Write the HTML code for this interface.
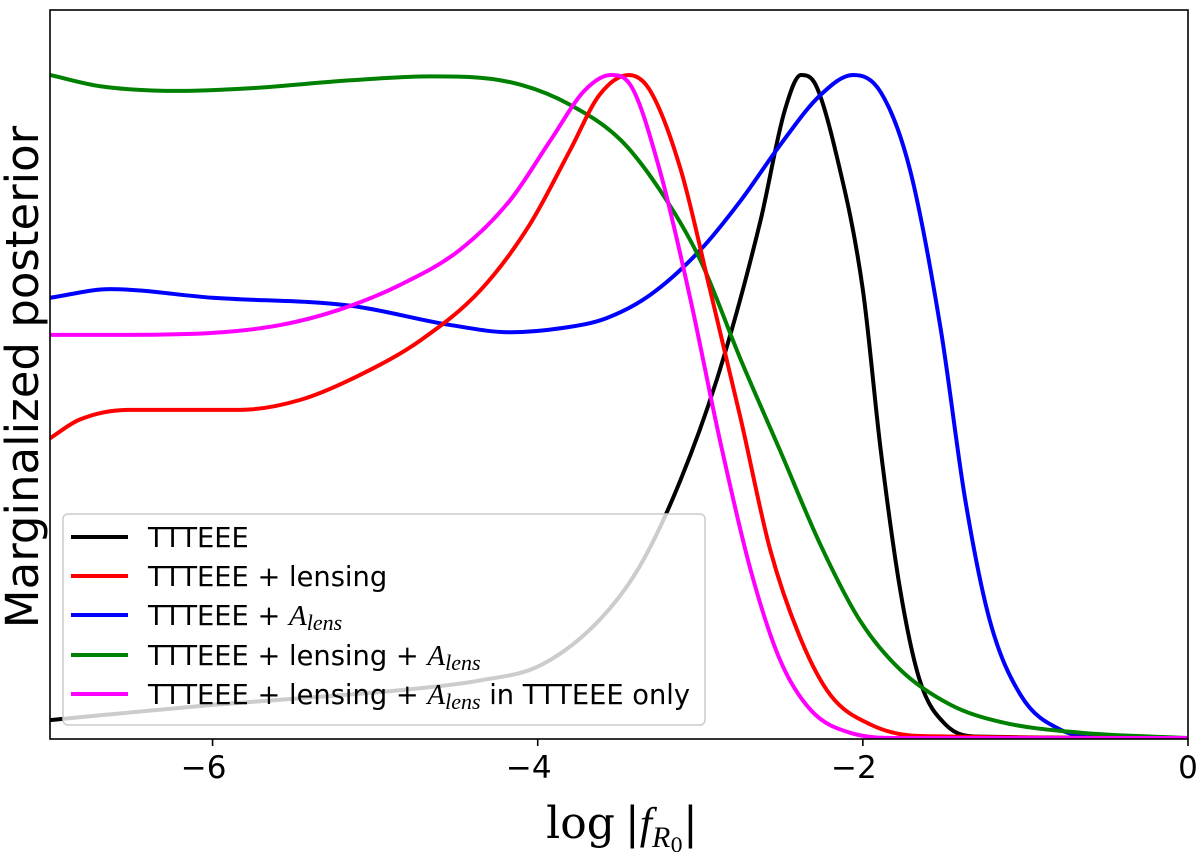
<!DOCTYPE html>
<html><head><meta charset="utf-8"><style>
body{margin:0;background:#fff;}
svg text{font-family:"DejaVu Sans","Liberation Sans",sans-serif;}
svg text.serif, svg tspan.serif{font-family:"DejaVu Serif","Liberation Serif",serif;}
.m{font-family:"Liberation Serif","DejaVu Serif",serif;font-style:italic;}
</style></head><body>
<svg id="chart" width="1200" height="852" viewBox="0 0 1200 852" xmlns="http://www.w3.org/2000/svg">
<g id="plot"></g>
</svg>
<script>
const xTicks=[-6,-4,-2,0];
const xTickLabels=["\u22126","\u22124","\u22122","0"];
const blackX=[-7,-6,-5.46,-4.85,-4.35,-3.98,-3.62,-3.37,-3.12,-2.88,-2.63,-2.48,-2.38,-2.29,-2.17,-2.0,-1.89,-1.77,-1.65,-1.49,-1.28,0];
const blackY=[0.027,0.05,0.06,0.072,0.087,0.11,0.178,0.26,0.39,0.555,0.78,0.947,1.0,0.985,0.887,0.676,0.434,0.223,0.087,0.02,0.002,0];
const blueX=[-7,-6.63,-6,-5.15,-4.54,-4.17,-3.86,-3.58,-3.31,-3,-2.75,-2.51,-2.26,-2.06,-1.89,-1.71,-1.52,-1.37,-1.22,-1.03,-0.78,-0.54,0];
const blueY=[0.664,0.677,0.664,0.652,0.623,0.612,0.618,0.633,0.668,0.736,0.811,0.894,0.97,1.0,0.974,0.857,0.615,0.359,0.178,0.065,0.012,0.002,0];
const greenX=[-7,-6.69,-6.2,-5.77,-5.15,-4.66,-4.42,-4.1,-3.8,-3.49,-3.25,-3,-2.75,-2.51,-2.26,-2.02,-1.77,-1.46,-1.15,-0.66,0];
const greenY=[1.0,0.983,0.976,0.98,0.992,0.998,0.997,0.985,0.955,0.902,0.827,0.721,0.57,0.434,0.291,0.178,0.103,0.05,0.024,0.008,0];
const redX=[-7,-6.82,-6.51,-5.83,-5.46,-5.09,-4.72,-4.35,-4.05,-3.8,-3.62,-3.44,-3.31,-3.12,-2.94,-2.75,-2.57,-2.38,-2.2,-1.95,-1.65,0];
const redY=[0.452,0.48,0.495,0.495,0.51,0.548,0.6,0.676,0.774,0.887,0.97,1.0,0.977,0.857,0.676,0.48,0.284,0.148,0.065,0.02,0.003,0];
const magX=[-7,-6.57,-6,-5.58,-5.22,-4.85,-4.48,-4.17,-3.92,-3.71,-3.55,-3.43,-3.25,-3.06,-2.88,-2.69,-2.51,-2.32,-2.08,-1.77,0];
const magY=[0.608,0.608,0.611,0.623,0.646,0.683,0.736,0.811,0.902,0.977,1.0,0.985,0.857,0.661,0.45,0.253,0.118,0.042,0.008,0,0];

const L=50,R=1188,T=10,B=739;
const X=v=>L+(v+7)/7*(R-L);
const Y=v=>738-v*663;
const NS="http://www.w3.org/2000/svg";
const g=document.getElementById('plot');
function mk(t,a,p){const e=document.createElementNS(NS,t);for(const k in a)e.setAttribute(k,a[k]);(p||g).appendChild(e);return e;}
function pathD(xs,ys){
  const n=xs.length,px=xs.map(X),py=ys.map(Y);
  const d=[],m=new Array(n);
  for(let i=0;i<n-1;i++)d.push((py[i+1]-py[i])/(px[i+1]-px[i]));
  m[0]=d[0];m[n-1]=d[n-2];
  for(let i=1;i<n-1;i++){m[i]=(d[i-1]*d[i]<=0)?0:(d[i-1]+d[i])/2;}
  for(let i=0;i<n-1;i++){
    if(d[i]===0){m[i]=0;m[i+1]=0;continue;}
    const a=m[i]/d[i],b=m[i+1]/d[i],s=a*a+b*b;
    if(s>9){const t=3/Math.sqrt(s);m[i]=t*a*d[i];m[i+1]=t*b*d[i];}
  }
  let p="M"+px[0]+","+py[0];
  for(let i=0;i<n-1;i++){
    const h=(px[i+1]-px[i])/3;
    p+=" C"+(px[i]+h)+","+(py[i]+m[i]*h)+" "+(px[i+1]-h)+","+(py[i+1]-m[i+1]*h)+" "+px[i+1]+","+py[i+1];
  }
  return p;
}
const defs=mk('defs',{});
const cp=mk('clipPath',{id:'clip'},defs);mk('rect',{x:L,y:T,width:R-L,height:B-T},cp);
const cg=mk('g',{'clip-path':'url(#clip)'});
const series=[["black",blackX,blackY,"series-ttteee"],["blue",blueX,blueY,"series-ttteee-alens"],["green",greenX,greenY,"series-ttteee-lensing-alens"],["red",redX,redY,"series-ttteee-lensing"],["#ff00ff",magX,magY,"series-ttteee-lensing-alens-ttteee-only"]];
series.forEach(s=>{
  const e=mk('path',{d:pathD(s[1],s[2]),fill:'none',stroke:s[0],'stroke-width':4,'stroke-linejoin':'round'},cg);
  
  
});
const fr=mk('rect',{x:L,y:T,width:R-L,height:B-T,fill:'none',stroke:'#000','stroke-width':1.6});


xTicks.forEach((t,i)=>{
  mk('line',{x1:X(t),x2:X(t),y1:B,y2:B+7,stroke:'#000','stroke-width':1.6});
  const tx=mk('text',{x:X(t)-(t===0?0:9),y:778,'font-size':31,'text-anchor':'middle'});
  tx.textContent=xTickLabels[i];
  
  
});
const lg=mk('g',{});


mk('rect',{x:63,y:514,width:642,height:211,rx:5,fill:'#fff','fill-opacity':0.8,stroke:'#ccc','stroke-width':1.5},lg);
const labels=[["black","TTTEEE",""],["red","TTTEEE + lensing",""],["blue","TTTEEE + ","A"],["green","TTTEEE + lensing + ","A"],["#ff00ff","TTTEEE + lensing + ","A"," in TTTEEE only"]];
const rowsY=[537,576,615,655,694];
labels.forEach((l,i)=>{
  const y=rowsY[i];
  mk('line',{x1:71,x2:128,y1:y,y2:y,stroke:l[0],'stroke-width':4},lg);
  const t=mk('text',{x:148,y:y+10,'font-size':27.3},lg);
  
  
  t.appendChild(document.createTextNode(l[1]));
  if(l[2]){
    const a=document.createElementNS(NS,'tspan');a.setAttribute('class','m');a.setAttribute('font-size','29');a.textContent='A';t.appendChild(a);
    const s=document.createElementNS(NS,'tspan');s.setAttribute('class','m');s.setAttribute('font-size','22');s.setAttribute('dy','5');s.textContent='lens';t.appendChild(s);
    if(l[3]){const r=document.createElementNS(NS,'tspan');r.setAttribute('dy','-5');r.textContent=' '+l[3].trim();t.appendChild(r);}
  }
});
const xl=mk('text',{x:622,y:838,'font-size':44,'text-anchor':'middle','class':'serif'});


xl.innerHTML='log<tspan dx="10">|</tspan><tspan class="m">f</tspan><tspan class="m" font-size="30" dy="9">R</tspan><tspan font-size="20" dy="5">0</tspan><tspan dy="-14">|</tspan>';
const yl=mk('text',{x:0,y:0,'font-size':45,'text-anchor':'middle',transform:'translate(38,377) rotate(-90)'});


yl.textContent='Marginalized posterior';
</script>
</body></html>
